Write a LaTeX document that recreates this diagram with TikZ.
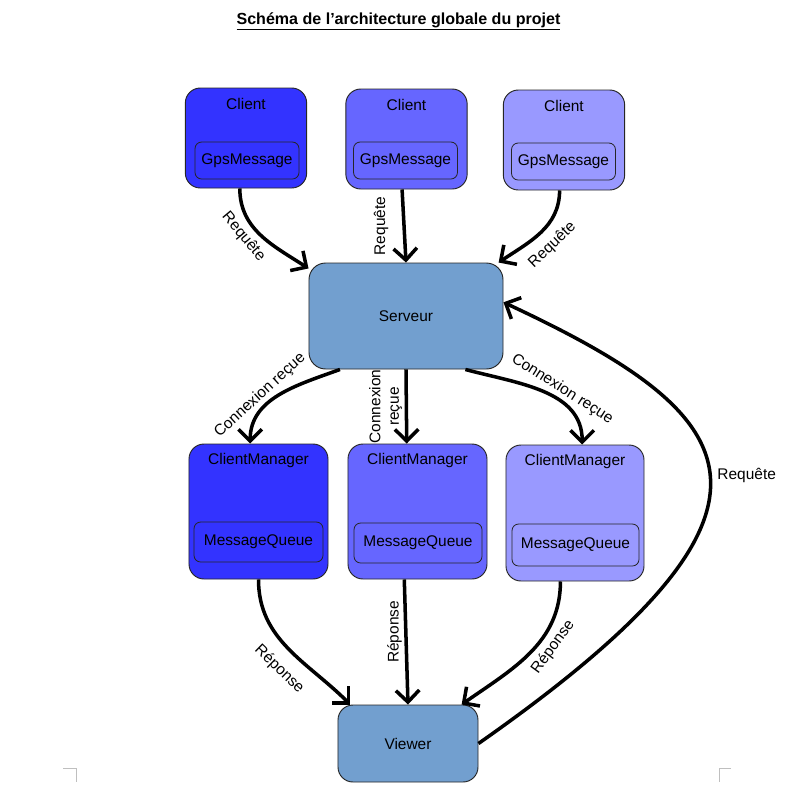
\documentclass[tikz,border=0pt]{standalone}
\usepackage{fontspec}
\setmainfont{Liberation Sans}
\usetikzlibrary{arrows.meta, positioning}
\definecolor{clientA}{HTML}{3333FF}
\definecolor{clientB}{HTML}{6666FF}
\definecolor{clientC}{HTML}{9999FF}
\definecolor{serveur}{HTML}{729FCF}
\tikzset{>={Straight Barb[length=10pt, width=20pt]}}
\tikzset{
	box/.style={draw=black!85, line width=0.8pt, rounded corners=0.45cm},
	part/.style={draw=black!85, line width=0.7pt, rounded corners=0.2cm},
	head/.style={anchor=center, yshift=-0.5cm},
	flow/.style={->, line width=3pt},
	lbl/.style={inner sep=2pt}
}

\begin{document}
\begin{tikzpicture}[x=0.03cm, y=0.03cm, font=\fontsize{13.2}{15.8}\selectfont]
	\useasboundingbox (0,0) rectangle (794,-798);

	\node[anchor=base, font=\bfseries\fontsize{13.7}{16}\selectfont] (T) at (398.5,-24) {\underline{Schéma de l’architecture globale du projet}};

	% clients
	\node[box, fill=clientA, minimum width=3.64cm, minimum height=3cm, label={[head]north:Client}] (C1) at (246,-138) {};
	\node[box, fill=clientB, minimum width=3.64cm, minimum height=3cm, label={[head]north:Client}] (C2) at (406.5,-139) {};
	\node[box, fill=clientC, minimum width=3.64cm, minimum height=3cm, label={[head]north:Client}] (C3) at (564,-140) {};
	\node[part, fill=clientA, minimum width=3.12cm, minimum height=1.11cm] (G1) at (247,-160.5) {GpsMessage};
	\node[part, fill=clientB, minimum width=3.12cm, minimum height=1.11cm] (G2) at (405.5,-160.5) {GpsMessage};
	\node[part, fill=clientC, minimum width=3.12cm, minimum height=1.11cm] (G3) at (563.5,-161.5) {GpsMessage};

	% serveur
	\node[box, fill=serveur, rounded corners=0.5cm, minimum width=5.82cm, minimum height=3.18cm] (S) at (406,-316) {Serveur};

	% client managers
	\node[box, fill=clientA, minimum width=4.17cm, minimum height=4.05cm, label={[head]north:ClientManager}] (M1) at (258.5,-511.5) {};
	\node[box, fill=clientB, minimum width=4.17cm, minimum height=4.05cm, label={[head]north:ClientManager}] (M2) at (417.5,-511.5) {};
	\node[box, fill=clientC, minimum width=4.14cm, minimum height=4.08cm, label={[head]north:ClientManager}] (M3) at (575,-513) {};
	\node[part, fill=clientA, minimum width=3.87cm, minimum height=1.2cm] (Q1) at (258.5,-542) {MessageQueue};
	\node[part, fill=clientB, minimum width=3.84cm, minimum height=1.2cm] (Q2) at (418,-543) {MessageQueue};
	\node[part, fill=clientC, minimum width=3.81cm, minimum height=1.26cm] (Q3) at (575.5,-545) {MessageQueue};

	% viewer
	\node[box, fill=serveur, minimum width=4.2cm, minimum height=2.31cm] (V) at (408,-743.5) {Viewer};

	\draw[flow](C1.-97) to [out=-90, in=147] node[lbl, sloped, below=2pt, pos=0.4]{Requête} (S.154) ;
	\draw[flow](C2.-95) -- node[lbl, left=10pt, anchor=south, rotate=90, midway]{Requête} (S.north) ;
	\draw[flow](C3.-95) to [out=-90, in=34] node[lbl, sloped, below=5pt, pos=0.5]{Requête} (S.30) ;

	\draw[flow](S.219) to [out=200, in=90] node[lbl, sloped, above, pos=0.62]{Connexion reçue} (M1.97) ;
	\draw[flow](S.south) -- node[lbl, above, rotate=90, midway, align=center]{Connexion\\reçue} (M2.99) ;
	\draw[flow](S.-42) to [out=-15, in=90] node[lbl, sloped, above, pos=0.6]{Connexion reçue} (M3.84) ;

	\draw[flow](M1.south) to [out=-90, in=135] node[lbl, sloped, below=8pt, pos=0.55]{Réponse} (V.146) ;
	\draw[flow](M2.-101) -- node[lbl, above, rotate=90, pos=0.42]{Réponse} (V.north) ;
	\draw[flow](M3.-102) to [out=-90, in=35] node[lbl, sloped, below=2pt, pos=0.38]{Réponse} (V.36) ;

	\draw[flow](V.east) .. controls +(35:416) and +(-25:268) .. node[lbl, right=3pt, pos=0.5]{Requête} (S.8) ;

	% page corners
	\draw[black!25, line width=0.8pt] (63,-768) -- (76,-768) -- (76,-782);
	\draw[black!25, line width=0.8pt] (731,-768) -- (719,-768) -- (719,-782);
\end{tikzpicture}
\end{document}
